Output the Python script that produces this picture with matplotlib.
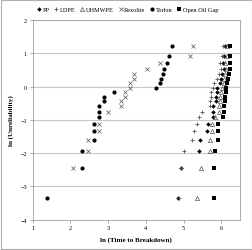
import numpy as np
import matplotlib.pyplot as plt
from matplotlib.patches import Rectangle

nan = np.nan

# ln(unreliability) for rank 1..20 (same positions for every material)
ln_unrel = [-3.35, -2.44, -1.95, -1.61, -1.34, -1.12, -0.92, -0.75, -0.59, -0.44,
            -0.30, -0.16, -0.03, 0.11, 0.24, 0.38, 0.53, 0.70, 0.91, 1.22]

# ln(time to breakdown), rank 1..20
pp = [4.85, 4.94, 5.40, 5.44, 5.63, 5.66, 5.77, 5.79, 5.79, 5.85,
      5.86, 5.88, 5.90, 5.96, 5.99, 6.02, 6.06, 6.04, 6.07, 6.10]
ldpe = [4.89, 4.93, 5.01, 5.23, 5.28, 5.35, 5.40, 5.48, 5.69, 5.70,
        5.72, 5.74, 5.77, 5.82, 5.88, 5.95, 5.99, 5.97, 6.01, 6.04]
uhmwpe = [5.37, 5.47, 5.69, 5.69, 5.76, 5.76, 5.84, 5.93, 5.94, 5.97,
          5.97, 5.99, 6.01, 6.06, 6.08, 6.11, 6.13, 6.11, 6.15, 6.16]
rexolite = [nan, 2.06, 2.47, 2.47, 2.77, 2.77, nan, 2.99, 3.33, 3.33,
            3.46, 3.46, 3.58, 3.58, 3.68, 3.68, 4.02, 4.38, 5.17, 5.24]
torlon = [1.37, 2.30, 2.30, 2.63, 2.63, 2.63, 2.76, 2.76, 2.76, 2.88,
          2.88, 3.16, 4.26, 4.38, 4.40, 4.45, 4.49, 4.55, 4.61, 4.69]
open_oil_gap = [5.81, 5.82, 5.83, 5.91, 5.91, 5.92, 6.05, 6.07, 6.07, 6.11,
                6.11, 6.13, 6.13, 6.16, 6.19, 6.21, 6.22, 6.22, 6.23, 6.24]

plt.rcParams['font.family'] = ['Liberation Serif', 'DejaVu Serif']

fig = plt.figure(figsize=(2.53, 2.51), dpi=100)
ax = fig.add_axes([0.129, 0.121, 0.820, 0.795])

ax.plot(pp, ln_unrel, 'D', color='black', ms=2.3, mew=0, label='PP')
ax.plot(ldpe, ln_unrel, '+', color='#555555', ms=3.3, mew=0.6, label='LDPE')
ax.plot(uhmwpe, ln_unrel, '^', mfc='none', mec='#555555', ms=3.0, mew=0.5, label='UHMWPE')
ax.plot(rexolite, ln_unrel, 'x', color='#555555', ms=3.0, mew=0.5, label='Rexolite')
ax.plot(torlon, ln_unrel, 'o', color='black', ms=3.0, mew=0, label='Torlon')
ax.plot(open_oil_gap, ln_unrel, 's', color='black', ms=2.8, mew=0, label='Open Oil Gap')

ax.set_xlim(1, 6.5)
ax.set_ylim(-4, 2)
ax.set_xticks([1, 2, 3, 4, 5, 6])
ax.set_yticks([-4, -3, -2, -1, 0, 1, 2])
ax.tick_params(labelsize=4.5, length=2, width=0.5, color='#888888', pad=2)
ax.grid(axis='y', color='#c8c8c8', lw=0.8)
ax.set_axisbelow(True)
for s in ax.spines.values():
    s.set_color('#a0a0a0')
    s.set_linewidth(0.6)

ax.set_xlabel('ln (Time to Breakdown)', fontsize=5, fontweight='bold', labelpad=4)
ax.set_ylabel('ln (Unreliability)', fontsize=5, fontweight='bold', labelpad=5)

fig.legend(loc='center', bbox_to_anchor=(127 / 253, 1 - 10 / 251), ncol=6,
           frameon=False, fontsize=4.5, handletextpad=0.05, columnspacing=0.6,
           handlelength=1.0, borderpad=0)

fig.patches.append(Rectangle((0.004, 0.004), 0.992, 0.992, transform=fig.transFigure,
                             fill=False, ec='#b0b0b0', lw=0.8))

fig.savefig('out.png', dpi=100)
